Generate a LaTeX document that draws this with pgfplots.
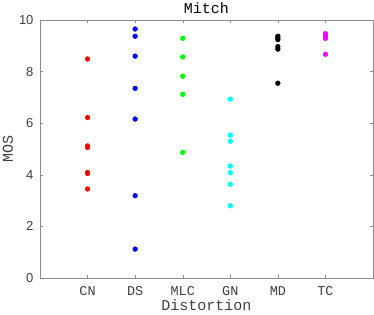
\documentclass[border=0pt]{standalone}
\usepackage{pgfplots}
\pgfplotsset{compat=1.18}
\usepackage{fontspec}
\setmainfont{Liberation Mono}
\setmonofont{Liberation Mono}
\newfontfamily\sansnum{Liberation Sans}
\definecolor{axgray}{rgb}{0.55,0.55,0.55}
\definecolor{txtgray}{rgb}{0.25,0.25,0.25}
\definecolor{pred}{rgb}{1,0,0}
\definecolor{pblue}{rgb}{0,0,1}
\definecolor{pgreen}{rgb}{0,1,0}
\definecolor{pcyan}{rgb}{0,1,1}
\definecolor{pmag}{rgb}{1,0,1}
\begin{document}
\begin{tikzpicture}[x=1pt,y=1pt]
\begin{axis}[
  name=ax,
  at={(0,0)}, anchor=south west,
  scale only axis,
  width=333pt, height=258pt,
  xmin=0, xmax=7, ymin=0, ymax=10,
  xtick={1,2,3,4,5,6},
  xticklabels={CN,DS,MLC,GN,MD,TC},
  ytick={0,2,4,6,8,10},
  tick align=inside,
  major tick length=3pt,
  axis line style={axgray},
  every tick/.style={axgray},
  tick label style={font=\fontsize{13.5}{14}\selectfont, text=txtgray},
  yticklabel style={font=\sansnum\fontsize{13}{14}\selectfont, xshift=-3pt},
  xticklabel style={yshift=-5pt},
  /pgf/number format/assume math mode=true,
  xlabel={Distortion}, ylabel={MOS},
  label style={font=\fontsize{15}{16}\selectfont, text=txtgray},
  title={Mitch},
  title style={font=\fontsize{15}{16}\selectfont, yshift=-3pt},
  xlabel style={yshift=3pt},
  ylabel style={yshift=-1pt},
  mark size=2.4pt,
]
\addplot[only marks, mark=*, draw=pred, fill=pred] coordinates {
(1,8.49) (1,6.22) (1,5.12) (1,5.06) (1,4.09) (1,4.05) (1,3.45)};
\addplot[only marks, mark=*, draw=pblue, fill=pblue] coordinates {
(2,9.65) (2,9.37) (2,8.60) (2,7.35) (2,6.16) (2,3.19) (2,1.12)};
\addplot[only marks, mark=*, draw=pgreen, fill=pgreen] coordinates {
(3,9.29) (3,8.57) (3,7.82) (3,7.12) (3,4.87)};
\addplot[only marks, mark=*, draw=pcyan, fill=pcyan] coordinates {
(4,6.93) (4,5.54) (4,5.30) (4,4.34) (4,4.08) (4,3.63) (4,2.80)};
\addplot[only marks, mark=*, draw=black, fill=black] coordinates {
(5,9.37) (5,9.30) (5,9.24) (5,8.97) (5,8.87) (5,7.55)};
\addplot[only marks, mark=*, draw=pmag, fill=pmag] coordinates {
(6,9.47) (6,9.40) (6,9.33) (6,9.29) (6,8.67)};
\end{axis}
\pgfresetboundingbox
\path[use as bounding box] ([xshift=-40pt,yshift=-37pt]ax.south west) rectangle ([xshift=1pt,yshift=20pt]ax.north east);
\end{tikzpicture}
\end{document}
